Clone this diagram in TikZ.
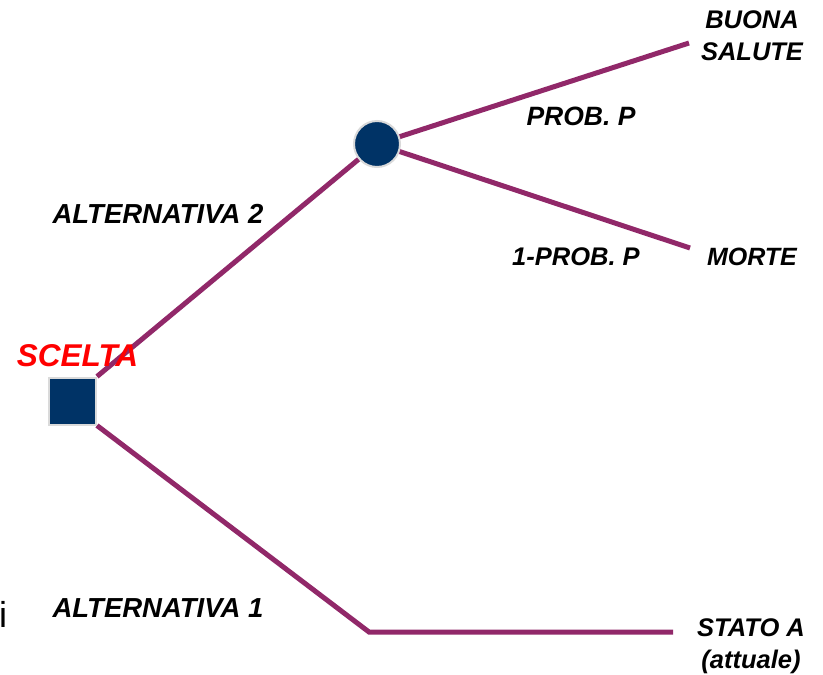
\documentclass[tikz,border=0pt]{standalone}
\usepackage{fontspec}
\setmainfont{Liberation Sans}
\usetikzlibrary{backgrounds}
\definecolor{branch}{RGB}{145,40,105}
\definecolor{navy}{RGB}{0,51,102}
\definecolor{rim}{RGB}{218,218,218}
\tikzset{
  branchline/.style={draw=branch, line width=5pt},
  decisionbox/.style={rectangle, fill=navy, draw=rim, line width=2pt, minimum size=47pt, inner sep=0pt},
  chancedot/.style={circle, fill=navy, draw=rim, line width=2pt, minimum size=46pt, inner sep=0pt},
  lbl/.style={font=\fontsize{25.5}{32}\selectfont\bfseries\itshape, text=black, inner sep=0pt, align=center},
  biglbl/.style={lbl, font=\fontsize{27.5}{32}\selectfont\bfseries\itshape},
  redlbl/.style={font=\fontsize{31.5}{34}\selectfont\bfseries\itshape, text=red, inner sep=0pt},
}
\begin{document}
\begin{tikzpicture}[x=1pt, y=-1pt]
  \useasboundingbox (0,0) rectangle (823,675);

  % decision and chance nodes
  \node[decisionbox] (scelta) at (72.5,401) {};
  \node[chancedot] (caso) at (377,144) {};

  % free ends of the branches
  \coordinate (buonaEnd) at (689,43);
  \coordinate (morteEnd) at (690,248);
  \coordinate (knee) at (369,632);
  \coordinate (statoEnd) at (673,632);

  % branches, drawn under the nodes
  \begin{pgfonlayer}{background}
    \draw[branchline] (scelta.north east) -- (caso.center);
    \draw[branchline] (caso.center) -- (buonaEnd);
    \draw[branchline] (caso.center) -- (morteEnd);
    \draw[branchline, line join=miter] (scelta.south east) -- (knee) -- (statoEnd);
  \end{pgfonlayer}

  % labels
  \node[redlbl] (tScelta) at (77.5,356) {SCELTA};
  \node[biglbl] (tAlt2) at (158,214) {ALTERNATIVA 2};
  \node[biglbl] (tAlt1) at (158,608) {ALTERNATIVA 1};
  \node[lbl, font=\fontsize{26.5}{32}\selectfont\bfseries\itshape] (tProb) at (581,116) {PROB. P};
  \node[lbl] (tProb1) at (576,257) {1-PROB. P};
  \node[lbl] (tBuona) at (752,36) {BUONA\\SALUTE};
  \node[lbl, font=\fontsize{25}{32}\selectfont\bfseries\itshape] (tMorte) at (752,257) {MORTE};
  \node[lbl] (tStato) at (751,646) {STATO A\\(attuale)};
  \node[font=\fontsize{36}{40}\selectfont, inner sep=0pt, anchor=west] (tI) at (-1,614) {i};
\end{tikzpicture}
\end{document}
